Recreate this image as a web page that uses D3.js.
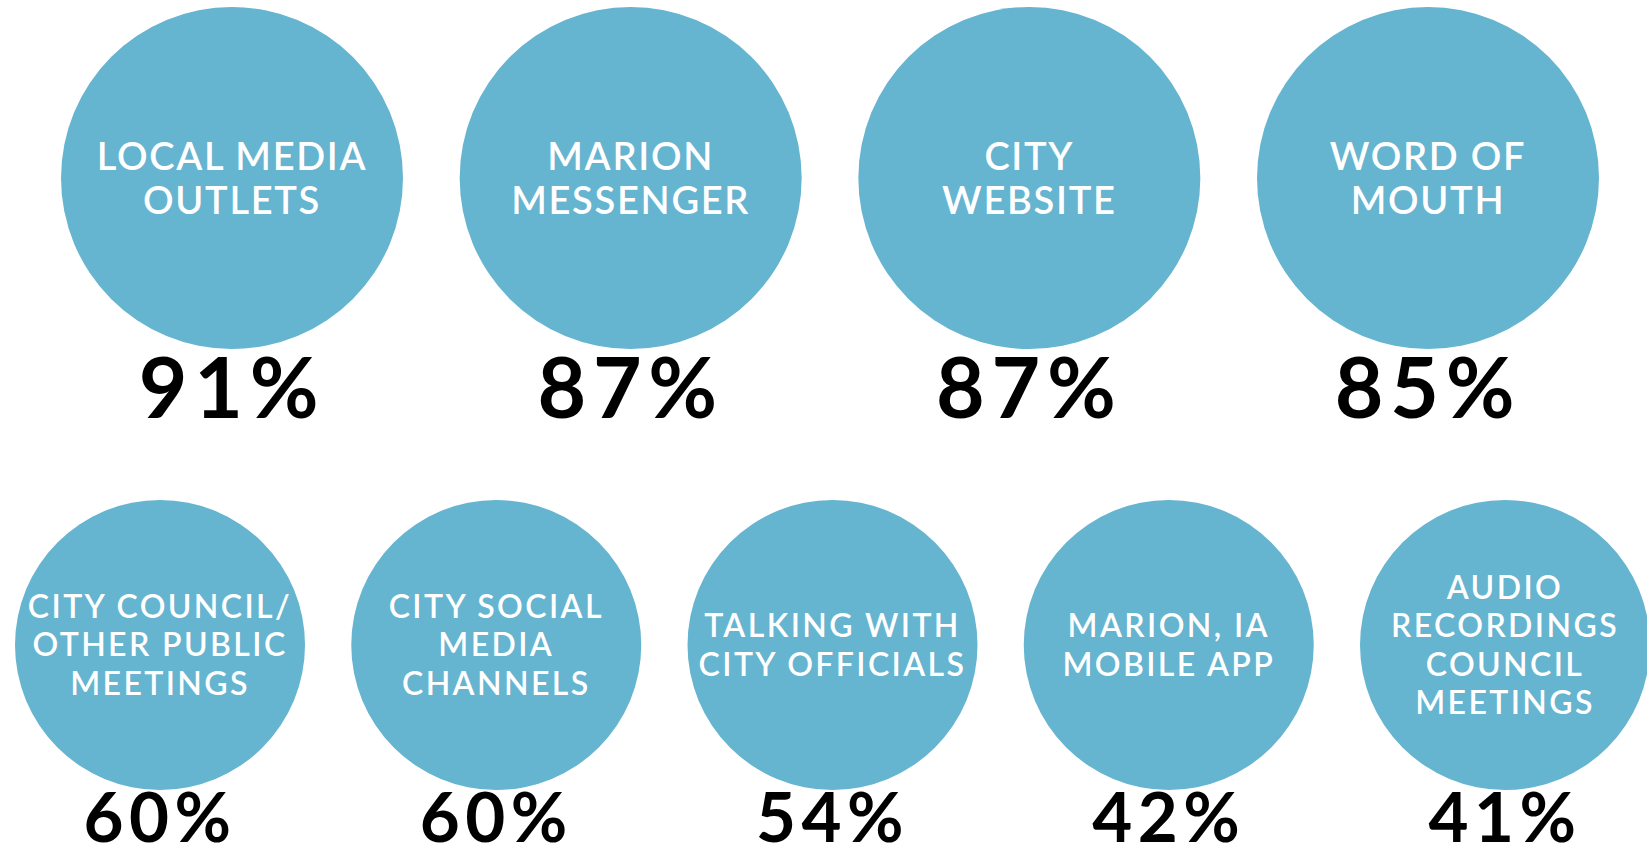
<!DOCTYPE html>
<html>
<head>
<meta charset="utf-8">
<script src="https://cdn.jsdelivr.net/npm/d3@7"></script>
<style>
  html, body { margin: 0; padding: 0; background: #ffffff; overflow: hidden; }
  svg { display: block; }
</style>
</head>
<body>
<script>
// ---- data ----
const categories = [
  "LOCAL MEDIA OUTLETS", "MARION MESSENGER", "CITY WEBSITE", "WORD OF MOUTH",
  "CITY COUNCIL/ OTHER PUBLIC MEETINGS", "CITY SOCIAL MEDIA CHANNELS",
  "TALKING WITH CITY OFFICIALS", "MARION, IA MOBILE APP", "AUDIO RECORDINGS COUNCIL MEETINGS"
];
const labelLines = [
  ["LOCAL MEDIA", "OUTLETS"],
  ["MARION", "MESSENGER"],
  ["CITY", "WEBSITE"],
  ["WORD OF", "MOUTH"],
  ["CITY COUNCIL/", "OTHER PUBLIC", "MEETINGS"],
  ["CITY SOCIAL", "MEDIA", "CHANNELS"],
  ["TALKING WITH", "CITY OFFICIALS"],
  ["MARION, IA", "MOBILE APP"],
  ["AUDIO", "RECORDINGS", "COUNCIL", "MEETINGS"]
];
const values = [91, 87, 87, 85, 60, 60, 54, 42, 41];
const rowOf = [0, 0, 0, 0, 1, 1, 1, 1, 1];

// ---- layout ----
const W = 1647, H = 857;
const FONT = "Lato, 'Open Sans', sans-serif";
const CAP = 0.7165;
const rowSpec = [
  { xRange: [232, 1428], cy: 178, r: 171, labelSize: 38, lineH: 44, labelSpacing: "0.045em", pctSize: 84, pctBase: 418 },
  { xRange: [160, 1505], cy: 645, r: 145, labelSize: 32, lineH: 38.5, labelSpacing: "0.075em", pctSize: 69, pctBase: 842 }
];

const data = categories.map((c, i) => ({ cat: c, lines: labelLines[i], value: values[i], row: rowOf[i] }));

rowSpec.forEach((spec, ri) => {
  spec.x = d3.scalePoint()
    .domain(data.filter(d => d.row === ri).map(d => d.cat))
    .range(spec.xRange);
});

const svg = d3.select("body").append("svg").attr("width", W).attr("height", H);

const g = svg.selectAll("g.item").data(data).join("g").attr("class", "item")
  .attr("transform", d => `translate(${rowSpec[d.row].x(d.cat)},0)`);

g.append("circle")
  .attr("cx", 0)
  .attr("cy", d => rowSpec[d.row].cy)
  .attr("r", d => rowSpec[d.row].r)
  .attr("fill", "#65b4d0");

g.each(function(d) {
  const s = rowSpec[d.row];
  const c = s.labelSize * CAP;
  const n = d.lines.length;
  const total = (n - 1) * s.lineH + c;
  const first = s.cy - total / 2 + c;
  d3.select(this).selectAll("text.lbl").data(d.lines).join("text")
    .attr("class", "lbl")
    .attr("x", 0)
    .attr("y", (t, i) => first + i * s.lineH)
    .attr("text-anchor", "middle")
    .attr("fill", "#ffffff")
    .style("font-family", FONT)
    .style("font-weight", 600)
    .style("font-size", s.labelSize + "px")
    .style("letter-spacing", s.labelSpacing)
    .text(t => t);
});

g.append("text")
  .attr("class", "pct")
  .attr("x", 0)
  .attr("y", d => rowSpec[d.row].pctBase)
  .attr("text-anchor", "middle")
  .attr("fill", "#000000")
  .style("font-family", FONT)
  .style("font-weight", 700)
  .style("font-size", d => rowSpec[d.row].pctSize + "px")
  .style("letter-spacing", "0.08em")
  .text(d => d.value + "%");
</script>
</body>
</html>
